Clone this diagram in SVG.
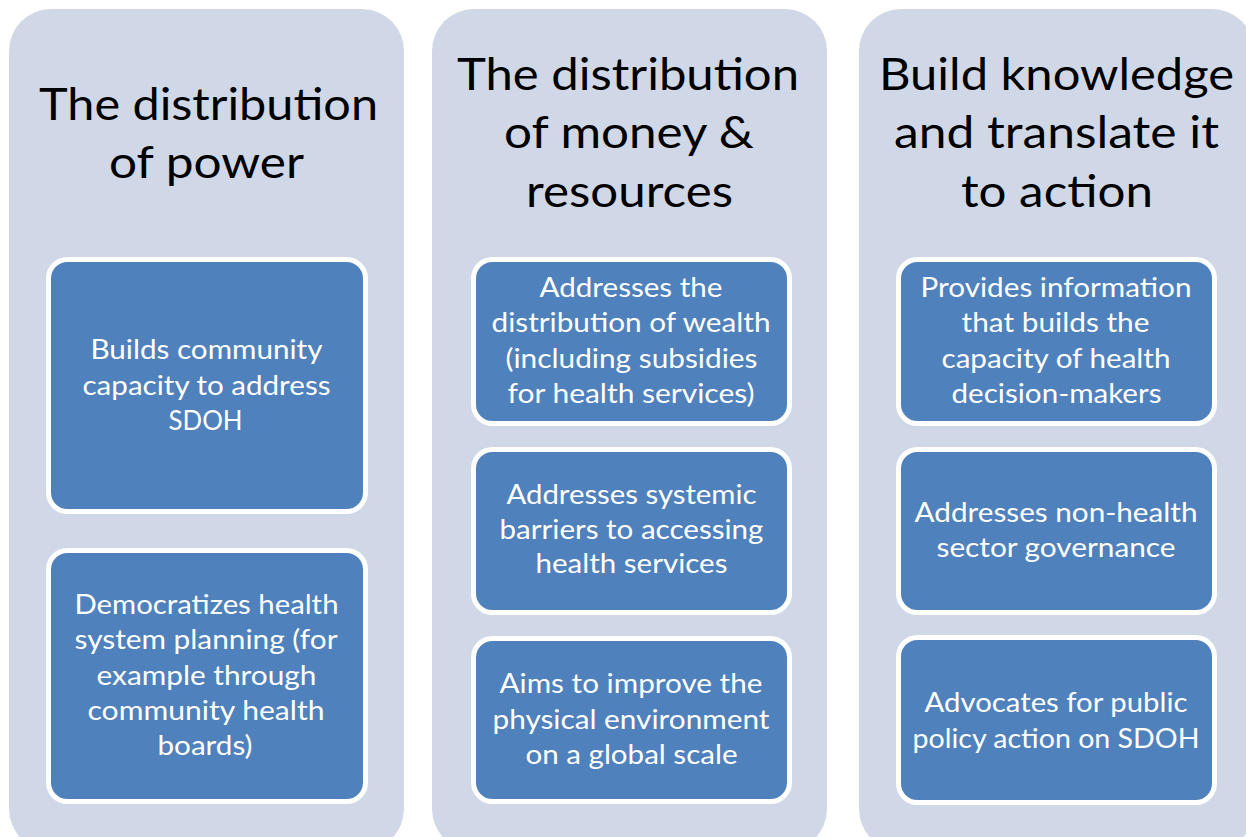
<svg xmlns="http://www.w3.org/2000/svg" width="1246" height="837" viewBox="0 0 1246 837">
  <style>
    .col { fill: #D0D8E8; }
    .box { fill: #4F81BD; stroke: #FFFFFF; stroke-width: 5; }
    .title { font-family: Lato, "Open Sans", "DejaVu Sans", sans-serif; font-size: 44px; fill: #000000; text-anchor: middle; }
    .label { font-family: Lato, "Open Sans", "DejaVu Sans", sans-serif; font-size: 27px; fill: #FFFFFF; text-anchor: middle; }
  </style>
  <rect x="0" y="0" width="1246" height="837" fill="#FFFFFF"/>

  <!-- Column 1: The distribution of power -->
  <g id="col-power">
    <rect class="col" x="9" y="9" width="395" height="842" rx="42" ry="42"/>
    <text class="title" x="208.5" y="120" textLength="339" lengthAdjust="spacingAndGlyphs">The distribution</text>
    <text class="title" x="206.5" y="178" textLength="195" lengthAdjust="spacingAndGlyphs">of power</text>
  </g>
  <g id="node-builds-capacity">
    <rect class="box" x="48.5" y="259.5" width="317" height="252" rx="19" ry="19"/>
    <text class="label" x="206.5" y="359" textLength="232" lengthAdjust="spacingAndGlyphs">Builds community</text>
    <text class="label" x="206.5" y="395" textLength="248" lengthAdjust="spacingAndGlyphs">capacity to address</text>
    <text class="label" x="205.5" y="430" textLength="74" lengthAdjust="spacingAndGlyphs">SDOH</text>
  </g>
  <g id="node-democratizes">
    <rect class="box" x="48.5" y="550.5" width="317" height="251" rx="19" ry="19"/>
    <text class="label" x="206.5" y="614" textLength="264" lengthAdjust="spacingAndGlyphs">Democratizes health</text>
    <text class="label" x="206" y="649" textLength="263" lengthAdjust="spacingAndGlyphs">system planning (for</text>
    <text class="label" x="206.5" y="685" textLength="220" lengthAdjust="spacingAndGlyphs">example through</text>
    <text class="label" x="206" y="720" textLength="237" lengthAdjust="spacingAndGlyphs">community health</text>
    <text class="label" x="205" y="755" textLength="95" lengthAdjust="spacingAndGlyphs">boards)</text>
  </g>

  <!-- Column 2: The distribution of money & resources -->
  <g id="col-money">
    <rect class="col" x="432" y="9" width="395" height="842" rx="42" ry="42"/>
    <text class="title" x="628" y="90" textLength="342" lengthAdjust="spacingAndGlyphs">The distribution</text>
    <text class="title" x="629" y="148" textLength="250" lengthAdjust="spacingAndGlyphs">of money &amp;</text>
    <text class="title" x="629.5" y="207" textLength="207" lengthAdjust="spacingAndGlyphs">resources</text>
  </g>
  <g id="node-wealth">
    <rect class="box" x="473.5" y="259.5" width="316" height="164" rx="19" ry="19"/>
    <text class="label" x="631" y="297" textLength="183" lengthAdjust="spacingAndGlyphs">Addresses the</text>
    <text class="label" x="631" y="332" textLength="279" lengthAdjust="spacingAndGlyphs">distribution of wealth</text>
    <text class="label" x="631.5" y="368" textLength="252" lengthAdjust="spacingAndGlyphs">(including subsidies</text>
    <text class="label" x="631" y="403" textLength="247" lengthAdjust="spacingAndGlyphs">for health services)</text>
  </g>
  <g id="node-barriers">
    <rect class="box" x="473.5" y="449.5" width="316" height="163" rx="19" ry="19"/>
    <text class="label" x="631.5" y="504" textLength="250" lengthAdjust="spacingAndGlyphs">Addresses systemic</text>
    <text class="label" x="631.5" y="539" textLength="264" lengthAdjust="spacingAndGlyphs">barriers to accessing</text>
    <text class="label" x="631.5" y="573" textLength="192" lengthAdjust="spacingAndGlyphs">health services</text>
  </g>
  <g id="node-environment">
    <rect class="box" x="473.5" y="638.5" width="316" height="163" rx="19" ry="19"/>
    <text class="label" x="631" y="693" textLength="263" lengthAdjust="spacingAndGlyphs">Aims to improve the</text>
    <text class="label" x="631" y="729" textLength="277" lengthAdjust="spacingAndGlyphs">physical environment</text>
    <text class="label" x="631.5" y="764" textLength="212" lengthAdjust="spacingAndGlyphs">on a global scale</text>
  </g>

  <!-- Column 3: Build knowledge and translate it to action -->
  <g id="col-knowledge">
    <rect class="col" x="859" y="9" width="395" height="842" rx="42" ry="42"/>
    <text class="title" x="1056.5" y="90" textLength="355" lengthAdjust="spacingAndGlyphs">Build knowledge</text>
    <text class="title" x="1056.5" y="148" textLength="325" lengthAdjust="spacingAndGlyphs">and translate it</text>
    <text class="title" x="1057" y="207" textLength="192" lengthAdjust="spacingAndGlyphs">to action</text>
  </g>
  <g id="node-information">
    <rect class="box" x="898.5" y="259.5" width="316" height="164" rx="19" ry="19"/>
    <text class="label" x="1056" y="297" textLength="271" lengthAdjust="spacingAndGlyphs">Provides information</text>
    <text class="label" x="1055.5" y="332" textLength="188" lengthAdjust="spacingAndGlyphs">that builds the</text>
    <text class="label" x="1056" y="368" textLength="229" lengthAdjust="spacingAndGlyphs">capacity of health</text>
    <text class="label" x="1056.5" y="403" textLength="210" lengthAdjust="spacingAndGlyphs">decision-makers</text>
  </g>
  <g id="node-governance">
    <rect class="box" x="898.5" y="449.5" width="316" height="163" rx="19" ry="19"/>
    <text class="label" x="1056" y="522" textLength="283" lengthAdjust="spacingAndGlyphs">Addresses non-health</text>
    <text class="label" x="1056" y="557" textLength="239" lengthAdjust="spacingAndGlyphs">sector governance</text>
  </g>
  <g id="node-advocates">
    <rect class="box" x="898.5" y="637.5" width="316" height="165" rx="19" ry="19"/>
    <text class="label" x="1056" y="712" textLength="263" lengthAdjust="spacingAndGlyphs">Advocates for public</text>
    <text class="label" x="1056" y="748" textLength="287" lengthAdjust="spacingAndGlyphs">policy action on SDOH</text>
  </g>

  <!-- no connectors in this layout -->
  <g id="connectors"/>
</svg>
